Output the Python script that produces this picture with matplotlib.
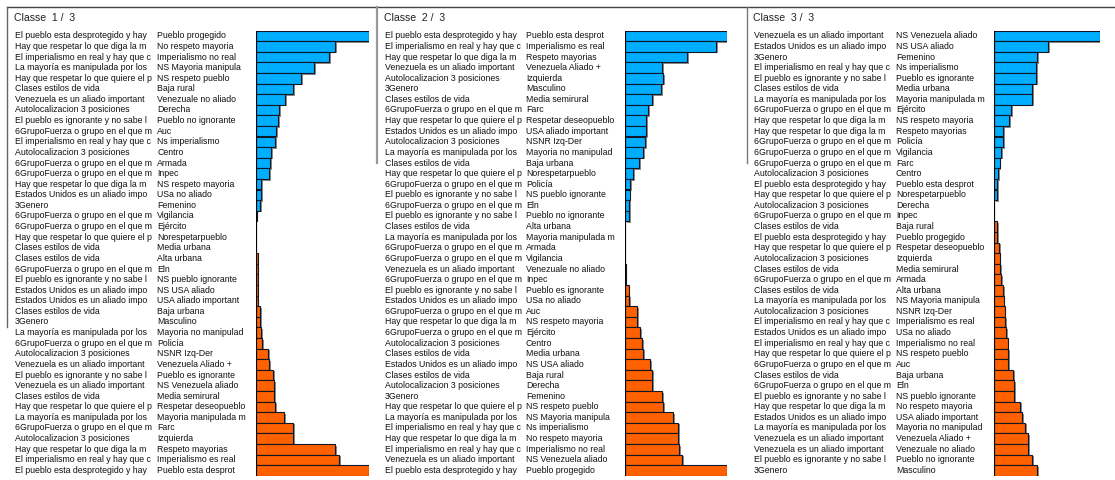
import matplotlib
matplotlib.use("Agg")
import matplotlib.pyplot as plt
import matplotlib.patheffects as pe
from matplotlib.transforms import blended_transform_factory
from matplotlib.lines import Line2D

plt.rcParams['font.family'] = ['Liberation Sans', 'DejaVu Sans']

GF = "6GrupoFuerza o grupo en el que m"
HD = "Hay que respetar lo que diga la m"
HQ = "Hay que respetar lo que quiere el p"
EI = "El imperialismo en real y hay que c"
MM = "La mayoría es manipulada por los"
EP = "El pueblo esta desprotegido y hay"
PI = "El pueblo es ignorante y no sabe l"
VE = "Venezuela es un aliado important"
EU = "Estados Unidos es un aliado impo"
AU = "Autolocalizacion 3 posiciones"
CL = "Clases estilos de vida"
GE = "3Genero"

# ---- Classe 1 / 3 ----
vars1 = [EP, HD, EI, MM, HQ, CL, VE, AU, PI, GF, EI, AU, GF, GF, HD, EU, GE, GF, GF, HQ, CL,
         CL, GF, PI, EU, EU, CL, GE, MM, GF, AU, VE, PI, VE, CL, HQ, MM, GF, AU, HD, EI, EP]
cats1 = ["Pueblo progegido", "No respeto mayoria", "Imperialismo no real", "NS Mayoria manipula",
         "NS respeto pueblo", "Baja rural", "Venezuale no aliado", "Derecha", "Pueblo no ignorante",
         "Auc", "Ns imperialismo", "Centro", "Armada", "Inpec", "NS respeto mayoria",
         "USa no aliado", "Femenino", "Vigilancia", "Ejército", "Norespetarpueblo", "Media urbana",
         "Alta urbana", "Eln", "NS pueblo ignorante", "NS USA aliado", "USA aliado important",
         "Baja urbana", "Masculino", "Mayoria no manipulad", "Policía", "NSNR Izq-Der",
         "Venezuela Aliado +", "Pueblo es ignorante", "NS Venezuela aliado", "Media semirural",
         "Respetar deseopueblo", "Mayoria manipulada m", "Farc", "Izquierda", "Respeto mayorias",
         "Imperialismo es real", "Pueblo esta desprot"]
vals1 = [113, 79, 73, 58, 45, 37, 29, 23, 22, 20, 19, 15, 14, 13, 5, 5, 4, 0.6, 0.4, 0.2, -0.4,
         -1.5, -1.5, -1.5, -1.5, -1.8, -4, -4, -5, -6, -12, -13, -17, -18, -18, -19, -28, -37, -37,
         -79, -83, -113]

# ---- Classe 2 / 3 ----
vars2 = [EP, EI, HD, VE, AU, GE, CL, GF, HQ, EU, AU, MM, CL, HQ, GF, PI, GF, PI, CL, MM, GF,
         GF, VE, GF, PI, EU, GF, HD, GF, AU, CL, EU, CL, AU, GE, HQ, MM, EI, HD, EI, VE, EP]
cats2 = ["Pueblo esta desprot", "Imperialismo es real", "Respeto mayorias", "Venezuela Aliado +",
         "Izquierda", "Masculino", "Media semirural", "Farc", "Respetar deseopueblo",
         "USA aliado important", "NSNR Izq-Der", "Mayoria no manipulad", "Baja urbana",
         "Norespetarpueblo", "Policía", "NS pueblo ignorante", "Eln", "Pueblo no ignorante",
         "Alta urbana", "Mayoria manipulada m", "Armada", "Vigilancia", "Venezuale no aliado",
         "Inpec", "Pueblo es ignorante", "USa no aliado", "Auc", "NS respeto mayoria", "Ejército",
         "Centro", "Media urbana", "NS USA aliado", "Baja rural", "Derecha", "Femenino",
         "NS respeto pueblo", "NS Mayoria manipula", "Ns imperialismo", "No respeto mayoria",
         "Imperialismo no real", "NS Venezuela aliado", "Pueblo progegido"]
vals2 = [102, 91, 62, 37, 38, 36, 27, 23, 21, 21, 20, 18, 14, 8, 5, 4.5, 4, 4, 0.4, 0.3, 0.3,
         0.2, -0.8, -0.5, -3.7, -4, -12, -12, -15, -17, -18, -25, -27, -27, -37, -38, -48, -53,
         -53, -54, -57, -102]

# ---- Classe 3 / 3 ----
vars3 = [VE, EU, GE, EI, PI, CL, MM, GF, HD, HD, GF, GF, GF, AU, EP, HQ, AU, GF, CL, EP, HQ,
         AU, CL, GF, CL, MM, AU, EI, EU, EI, HQ, GF, CL, GF, PI, HD, EU, MM, VE, VE, PI, GE]
cats3 = ["NS Venezuela aliado", "NS USA aliado", "Femenino", "Ns imperialismo",
         "Pueblo es ignorante", "Media urbana", "Mayoria manipulada m", "Ejército",
         "NS respeto mayoria", "Respeto mayorias", "Policía", "Vigilancia", "Farc", "Centro",
         "Pueblo esta desprot", "Norespetarpueblo", "Derecha", "Inpec", "Baja rural",
         "Pueblo progegido", "Respetar deseopueblo", "Izquierda", "Media semirural", "Armada",
         "Alta urbana", "NS Mayoria manipula", "NSNR Izq-Der", "Imperialismo es real",
         "USa no aliado", "Imperialismo no real", "NS respeto pueblo", "Auc", "Baja urbana", "Eln",
         "NS pueblo ignorante", "No respeto mayoria", "USA aliado important",
         "Mayoria no manipulad", "Venezuela Aliado +", "Venezuale no aliado",
         "Pueblo no ignorante", "Masculino"]
vals3 = [106, 54, 43, 42, 42, 38, 38, 17, 15, 9, 9, 7, 5.7, 4, 3.3, 3.3, 0.3, -0.3, -3, -3.3,
         -5, -5.7, -6, -7, -9, -9.5, -10.5, -11, -12, -13.7, -14.3, -14, -19, -20, -20, -26, -28,
         -31, -34, -34, -38, -43]

titles = ["Classe  1 /  3", "Classe  2 /  3", "Classe  3 /  3"]
panels = [(vars1, cats1, vals1), (vars2, cats2, vals2), (vars3, cats3, vals3)]

W, H = 1115, 480
fig = plt.figure(figsize=(W / 100, H / 100), dpi=100)
fig.patch.set_facecolor("white")

# pixel layout per panel: label x, category x, bar origin, bar max width
layout = [(15, 157, 256, 113), (385, 526, 625, 102), (754, 896, 994, 106)]
row0, step = 35.8, 10.6
BLUE, ORANGE = "#00AEFF", "#FF6000"
shadow = [pe.SimplePatchShadow(offset=(1.2, -1.2), shadow_rgbFace="#808080", alpha=0.9), pe.Normal()]

for (labs, cats, vals), title, (xl, xc, x0, bw) in zip(panels, titles, layout):
    n = len(vals)
    top_px = row0 - step / 2
    bot_px = row0 + (n - 1) * step + step / 2
    ax = fig.add_axes([x0 / W, 1 - bot_px / H, bw / W, (bot_px - top_px) / H])
    ypos = list(range(n))
    widths = [abs(v) for v in vals]
    colors = [BLUE if v > 0 else ORANGE for v in vals]
    bars = ax.barh(ypos, widths, height=1.0, color=colors, edgecolor="#101828", linewidth=0.8)
    for b in bars:
        b.set_path_effects(shadow)
    ax.axvline(0, color="black", lw=0.8)
    ax.set_xlim(0, max(widths))
    ax.set_ylim(n - 0.5, -0.5)
    ax.axis("off")

    tr = blended_transform_factory(fig.transFigure, ax.transData)
    for i in ypos:
        ax.text(xl / W, i, labs[i], transform=tr, fontsize=6.35, va="center", ha="left", color="#111111")
        ax.text(xc / W, i, cats[i], transform=tr, fontsize=6.35, va="center", ha="left", color="#111111")
    fig.text((xl - 1) / W, 1 - 18 / H, title, fontsize=7.6, va="center", ha="left", color="#222222")

# window frame lines
fig.add_artist(Line2D([7 / W, 1], [1 - 7 / H, 1 - 7 / H], color="#444444", lw=1.0))
fig.add_artist(Line2D([7 / W, 7 / W], [1 - 7 / H, 1 - 327 / H], color="#666666", lw=1.0))
fig.add_artist(Line2D([376.5 / W, 376.5 / W], [1 - 7 / H, 1 - 163 / H], color="#999999", lw=1.6))
fig.add_artist(Line2D([746.5 / W, 746.5 / W], [1 - 7 / H, 1 - 163 / H], color="#777777", lw=1.0))

fig.savefig("out.png", dpi=100)
